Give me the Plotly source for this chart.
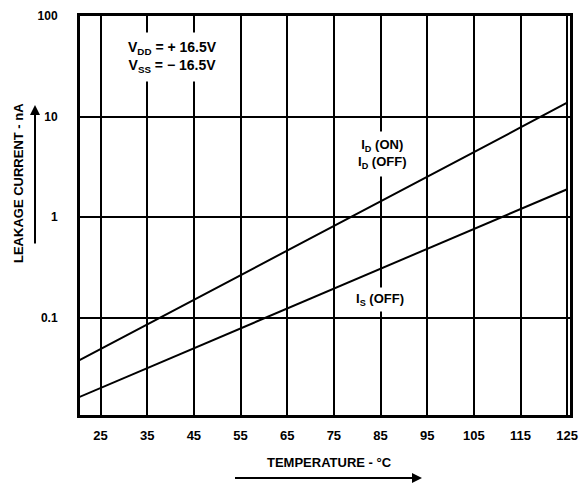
import plotly.graph_objects as go

temps = [20, 25, 35, 45, 55, 65, 75, 85, 95, 105, 115, 125]
id_leak = [0.037, 0.049, 0.087, 0.152, 0.267, 0.47, 0.82, 1.45, 2.54, 4.46, 7.8, 13.8]
is_leak = [0.016, 0.0201, 0.0317, 0.0499, 0.0785, 0.124, 0.195, 0.307, 0.484, 0.762, 1.2, 1.9]
x_ticks = [25, 35, 45, 55, 65, 75, 85, 95, 105, 115, 125]
y_ticks = [0.1, 1, 10, 100]
y_ticktext = ["0.1", "1", "10", "100"]

FONT = "Liberation Sans"

fig = go.Figure()
fig.add_trace(go.Scatter(x=temps, y=id_leak, mode="lines",
                         line=dict(color="black", width=2), showlegend=False))
fig.add_trace(go.Scatter(x=temps, y=is_leak, mode="lines",
                         line=dict(color="black", width=2), showlegend=False))

fig.update_layout(
    width=579, height=483,
    margin=dict(l=80, r=9, t=16, b=68, autoexpand=False),
    paper_bgcolor="white", plot_bgcolor="white",
    font=dict(family=FONT, size=10, color="black"),
    xaxis=dict(range=[20.6, 125.6], tickvals=x_ticks, ticktext=[str(v) for v in x_ticks],
               showgrid=True, gridcolor="black", gridwidth=2, automargin=False,
               showline=True, linecolor="black", linewidth=3, mirror=True,
               zeroline=False, ticks="", ticklabelstandoff=6,
               tickfont=dict(family=FONT, size=13, color="black", weight="bold")),
    yaxis=dict(type="log", range=[-1.965, 2], tickvals=y_ticks, ticktext=y_ticktext,
               showgrid=True, gridcolor="black", gridwidth=2, automargin=False,
               showline=True, linecolor="black", linewidth=3, mirror=True,
               zeroline=False, ticks="", ticklabelstandoff=17,
               tickfont=dict(family=FONT, size=12, color="black", weight="bold")),
)

def px(x):
    return (x - 80) / 490.0

def py(y):
    return (415 - y) / 399.0

anns = [
    dict(x=px(172), y=py(57), text="V<sub>DD</sub> = + 16.5V<br>V<sub>SS</sub> = − 16.5V",
         bgcolor="white", borderpad=6, font=dict(size=14, weight="bold")),
    dict(x=px(382), y=py(154), text="I<sub>D</sub> (ON)<br>I<sub>D</sub> (OFF)",
         bgcolor="white", borderpad=5, font=dict(size=13, weight="bold")),
    dict(x=px(380), y=py(299), text="I<sub>S</sub> (OFF)",
         bgcolor="white", borderpad=3, font=dict(size=13, weight="bold")),
    dict(x=px(329), y=py(462), text="TEMPERATURE - °C",
         font=dict(size=13, weight="bold")),
    dict(x=px(18), y=py(183), text="LEAKAGE CURRENT - nA", textangle=-90,
         font=dict(size=13, weight="bold")),
    # y arrow
    dict(x=px(35), y=py(105), text="", showarrow=True, ax=0, ay=140,
         arrowhead=2, arrowsize=1, arrowwidth=2, arrowcolor="black"),
    # x arrow head
    dict(x=px(422), y=py(478), text="", showarrow=True, ax=-20, ay=0,
         arrowhead=2, arrowsize=1, arrowwidth=2, arrowcolor="black"),
]
for a in anns:
    a.setdefault("xref", "paper")
    a.setdefault("yref", "paper")
    a.setdefault("showarrow", False)
    if a["text"]:
        a.setdefault("xanchor", "center")
        a.setdefault("yanchor", "middle")
    fig.add_annotation(**a)

# x arrow shaft
fig.add_shape(type="line", xref="paper", yref="paper",
              x0=px(235), x1=px(415), y0=py(478), y1=py(478),
              line=dict(color="black", width=2))

fig.write_html("out.html", config={"displayModeBar": False},
               post_script="document.body.style.margin='0';document.body.style.overflow='hidden';")
